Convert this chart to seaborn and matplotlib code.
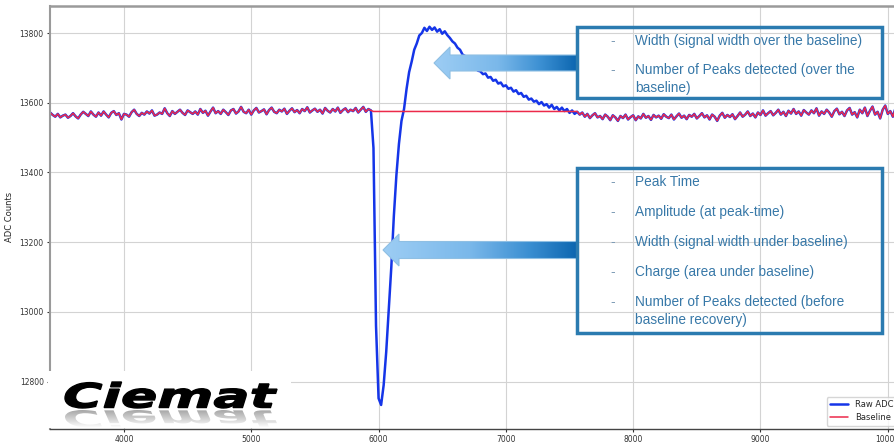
import numpy as np
import pandas as pd
import matplotlib
matplotlib.use("Agg")
import matplotlib.pyplot as plt
import seaborn as sns
from matplotlib.patches import Rectangle, Polygon, PathPatch
from matplotlib.textpath import TextPath
from matplotlib.font_manager import FontProperties
from matplotlib.transforms import Affine2D
from matplotlib.colors import LinearSegmentedColormap

# sample positions (every 20 ADC ticks) and values
sample = np.arange(3420, 10101, 20)

pre_signal = [
    13572, 13565, 13560, 13568, 13558, 13563, 13566, 13557, 13562, 13570, 13561, 13555, 13566, 13574, 13568,
    13562, 13575, 13566, 13560, 13572, 13563, 13575, 13566, 13558, 13571, 13576, 13565, 13570, 13552, 13568,
    13566, 13560, 13573, 13580, 13568, 13562, 13571, 13566, 13575, 13569, 13578, 13563, 13566, 13572, 13568,
    13584, 13570, 13562, 13576, 13568, 13574, 13580, 13571, 13565, 13578, 13573, 13568, 13575, 13566, 13582,
    13571, 13577, 13563, 13575, 13586, 13570, 13576, 13568, 13580, 13573, 13565, 13578, 13582, 13569, 13575,
    13588, 13574, 13570, 13580, 13566, 13578, 13585, 13572, 13576, 13581, 13567, 13579, 13586, 13574, 13570,
    13580, 13575, 13583, 13568, 13577, 13584, 13573, 13579, 13570, 13582, 13576, 13587, 13572, 13578, 13583,
    13574, 13580, 13569, 13585, 13577, 13572, 13582, 13575, 13586, 13571, 13579, 13584, 13573, 13580, 13576,
    13585, 13572, 13580, 13588, 13574, 13582, 13578,
]
pulse = [
    13470, 12960, 12752, 12733, 12790, 12885, 13005, 13128, 13275, 13392, 13482, 13548, 13582, 13640, 13688,
    13718, 13752, 13770, 13793, 13800, 13815, 13806, 13818, 13809, 13816, 13804, 13811, 13798, 13805, 13794,
    13786, 13776, 13770, 13758, 13752, 13738, 13734, 13720, 13718, 13703, 13706, 13692, 13690, 13682, 13684,
    13672, 13674, 13663, 13666, 13655, 13658, 13647, 13650, 13640, 13643, 13632, 13636, 13625, 13628, 13617,
    13620, 13609, 13612, 13603, 13606, 13596, 13602, 13592, 13596, 13586, 13594, 13582, 13588, 13578, 13586,
    13576, 13582, 13571, 13578, 13568, 13574,
]
post_signal = [
    13566, 13572, 13560, 13568, 13556, 13564, 13570, 13558, 13562, 13553, 13566, 13560, 13550, 13564, 13558,
    13548, 13562, 13556, 13566, 13552, 13559, 13564, 13550, 13561, 13555, 13568, 13557, 13562, 13551, 13565,
    13558, 13563, 13554, 13567, 13560, 13556, 13566, 13552, 13561, 13569, 13557, 13563, 13553, 13565, 13560,
    13568, 13555, 13562, 13570, 13558, 13564, 13552, 13566, 13560, 13548, 13563, 13571, 13557, 13565, 13559,
    13567, 13553, 13562, 13572, 13560, 13566, 13575, 13562, 13569, 13558, 13572, 13565, 13578, 13563, 13570,
    13576, 13564, 13571, 13580, 13566, 13574, 13562, 13577, 13569, 13582, 13568, 13575, 13563, 13579, 13572,
    13566, 13578, 13570, 13584, 13563, 13575, 13568, 13580, 13572, 13560, 13576, 13583, 13567, 13574, 13562,
    13578, 13585, 13566, 13573, 13558, 13580, 13570, 13586, 13562, 13577, 13589, 13566, 13574, 13555, 13580,
    13592, 13568, 13576, 13560, 13584, 13588, 13572,
]
raw_adc = np.array(pre_signal + pulse + post_signal, dtype=float)

# baseline follows the trace, held constant while the pulse is on
baseline_level = 13575
hold_start, hold_end = 5960, 7560
baseline = raw_adc.copy()
baseline[(sample >= hold_start) & (sample <= hold_end)] = baseline_level

df = pd.DataFrame({"sample": sample, "raw": raw_adc, "baseline": baseline})

top_items = ["Width (signal width over the baseline)",
             "Number of Peaks detected (over the\nbaseline)"]
bottom_items = ["Peak Time", "Amplitude (at peak-time)",
                "Width (signal width under baseline)",
                "Charge (area under baseline)",
                "Number of Peaks detected (before\nbaseline recovery)"]

sns.set_theme(style="whitegrid")
W, H = 894, 446
fig = plt.figure(figsize=(W / 100, H / 100), dpi=100)
ax = fig.add_axes([50 / W, (H - 429) / H, (900 - 50) / W, (429 - 5.5) / H])

sns.lineplot(data=df, x="sample", y="raw", ax=ax, color="#1535e8", lw=1.8, label="Raw ADC")
sns.lineplot(data=df, x="sample", y="baseline", ax=ax, color="#ec2a4a", lw=1.1, label="Baseline")

ax.set_xlim(3419, 10096)
ax.set_ylim(12664, 13879)
ax.set_xticks(range(4000, 10001, 1000))
ax.set_yticks(range(12800, 13801, 200))
ax.set_xlabel("")
ax.set_ylabel("ADC Counts", fontsize=6, color="#222222", labelpad=4)
ax.tick_params(labelsize=5.5, colors="#333333", length=2.5, width=0.8, pad=2,
               left=True, bottom=True)
ax.grid(color="#d3d3d3", lw=0.8)
ax.spines["right"].set_visible(False)
ax.spines["top"].set_color("#9a9a9a")
ax.spines["top"].set_linewidth(1.8)
ax.spines["left"].set_color("#9a9a9a")
ax.spines["left"].set_linewidth(1.5)
ax.spines["bottom"].set_color("#444444")
ax.spines["bottom"].set_linewidth(1.0)
leg = ax.legend(loc="lower right", fontsize=6, frameon=True, handlelength=2.2,
                borderaxespad=0.4)
leg.get_frame().set_edgecolor("#cccccc")

# overlay in pixel coordinates for the annotations and logo
ov = fig.add_axes([0, 0, 1, 1])
ov.patch.set_alpha(0)
ov.axis("off")

text_color = "#3778a8"
box_color = "#2b7bb0"


def info_box(y0, height, items, first_y, step):
    ov.add_patch(Rectangle((577, y0), 305, height, facecolor="none",
                           edgecolor=box_color, lw=2.5, zorder=6))
    for i, item in enumerate(items):
        yy = first_y + i * step
        ov.text(613, yy, "-", color="#7d9bb5", fontsize=10, va="center",
                ha="center", family="Liberation Sans", zorder=7)
        ov.text(635, yy - 7, item, color=text_color, fontsize=9.8, va="top",
                ha="left", family="Liberation Sans", linespacing=1.35, zorder=7)


info_box(27, 71, top_items, 41, 29)
info_box(168, 165, bottom_items, 182, 30)

arrow_cmap = LinearSegmentedColormap.from_list(
    "arr", [(0, "#9dcdf4"), (0.45, "#7ab8ea"), (0.75, "#3b8fd2"), (1, "#0c66b0")])


def grad_arrow(tip, head_x, end_x, cy, head_h, shaft_h):
    pts = [(tip, cy), (head_x, cy - head_h), (head_x, cy - shaft_h),
           (end_x, cy - shaft_h), (end_x, cy + shaft_h), (head_x, cy + shaft_h),
           (head_x, cy + head_h)]
    poly = Polygon(pts, closed=True, facecolor="none", edgecolor="#8fbfe3",
                   lw=0.8, zorder=5)
    ov.add_patch(poly)
    grad = np.linspace(0, 1, 256).reshape(1, -1)
    im = ov.imshow(grad, cmap=arrow_cmap, extent=(tip, end_x, cy + head_h, cy - head_h),
                   aspect="auto", zorder=4)
    im.set_clip_path(poly)


grad_arrow(434, 450, 577, 63, 16, 8)
grad_arrow(383, 399, 577, 250, 16, 8.5)

# logo
ov.add_patch(Rectangle((47.5, 371), 243, 57, facecolor="white", edgecolor="none", zorder=2))
fp = FontProperties(family="DejaVu Sans", weight="heavy", style="italic")
tp = TextPath((0, 0), "Ciemat", size=100, prop=fp)
bb = tp.get_extents()
sx = (277 - 65) / bb.width
sy = (408 - 382) / bb.height
logo = Affine2D().translate(-bb.x0, -bb.y0).scale(sx, -sy).translate(65, 408).transform_path(tp)
ov.add_patch(PathPatch(logo, facecolor="black", edgecolor="black", lw=1.0, zorder=3))
refl = Affine2D().translate(-bb.x0, -bb.y0).scale(sx, sy * 0.7).translate(65, 410).transform_path(tp)
refl_patch = PathPatch(refl, facecolor="none", edgecolor="none", zorder=3)
ov.add_patch(refl_patch)
fade = np.zeros((64, 1, 4))
fade[:, 0, 3] = np.linspace(0.35, 0.0, 64)
im = ov.imshow(fade, extent=(60, 285, 428, 410), aspect="auto", zorder=3)
im.set_clip_path(refl_patch)

ov.set_xlim(0, W)
ov.set_ylim(H, 0)

fig.savefig("out.png", dpi=100)
